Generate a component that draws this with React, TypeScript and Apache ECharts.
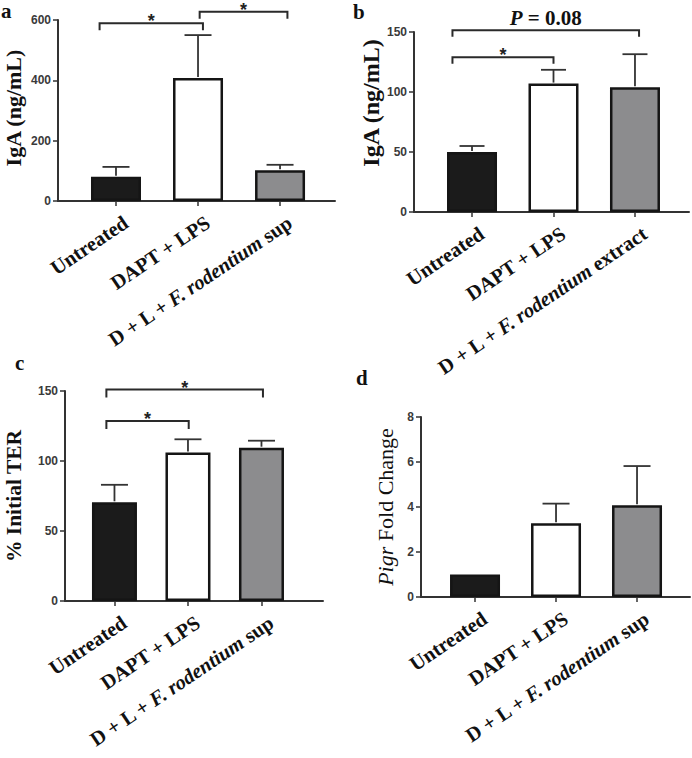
import React, { useEffect, useRef } from 'react';
import * as echarts from 'echarts';

const SERIF = '"Liberation Serif", "Times New Roman", serif';
const SANS = '"Liberation Sans", Arial, sans-serif';

// ---------- data ----------
const categoriesSup = ['Untreated', 'DAPT + LPS', 'D + L + F. rodentium sup'];
const categoriesExtract = ['Untreated', 'DAPT + LPS', 'D + L + F. rodentium extract'];
const barColors = ['#1b1b1b', '#ffffff', '#8c8c8e'];

const igaSupMean = [80, 408, 102];
const igaSupErr = [33, 142, 18];
const igaExtractMean = [50, 107, 104];
const igaExtractErr = [5, 11.5, 27.5];
const terMean = [70.5, 106, 109.5];
const terErr = [12.5, 9.5, 5];
const pigrMean = [1, 3.28, 4.08];
const pigrErr = [0, 0.87, 1.74];

const yTicksA = [0, 200, 400, 600];
const yTicksB = [0, 50, 100, 150];
const yTicksC = [0, 50, 100, 150];
const yTicksD = [0, 2, 4, 6, 8];

// significance brackets: [from (category index), to (category index), level, label]
const bracketsA: [number, number, number, string][] = [
  [-0.2, 1.06, 589, '*'],
  [1.02, 2.09, 627, '*'],
];
const bracketsB: [number, number, number, string][] = [
  [-0.24, 1.0, 129, '*'],
  [-0.24, 2.05, 151.5, 'P = 0.08'],
];
const bracketsC: [number, number, number, string][] = [
  [-0.11, 1.01, 128.5, '*'],
  [-0.11, 2.02, 151, '*'],
];
const bracketsD: [number, number, number, string][] = [];

const panelLetters = ['a', 'b', 'c', 'd'];
const yTitles = ['IgA (ng/mL)', 'IgA (ng/mL)', '% Initial TER', 'Pigr Fold Change'];

// ---------- layout ----------
const panels = [
  {
    grid: { left: 58, top: 20, width: 277, height: 181 },
    xMin: -0.707, xMax: 2.67, barWidth: 50, cap: 27, drop: 7,
    yTicks: yTicksA, cats: categoriesSup, mean: igaSupMean, err: igaSupErr,
    brackets: bracketsA, title: yTitles[0], nameGap: 34, namePad: [0, 0, 0, 5], nameSize: 22,
    letter: { text: panelLetters[0], x: 1, y: 10.5 },
  },
  {
    grid: { left: 414, top: 32, width: 275, height: 180 },
    xMin: -0.712, xMax: 2.663, barWidth: 50, cap: 25, drop: 6.5,
    yTicks: yTicksB, cats: categoriesExtract, mean: igaExtractMean, err: igaExtractErr,
    brackets: bracketsB, title: yTitles[1], nameGap: 30, namePad: [0, 0, 0, 38], nameSize: 24,
    letter: { text: panelLetters[1], x: 353, y: 11.5 },
  },
  {
    grid: { left: 65, top: 391, width: 258, height: 210 },
    xMin: -0.673, xMax: 2.837, barWidth: 45, cap: 27, drop: 8,
    yTicks: yTicksC, cats: categoriesSup, mean: terMean, err: terErr,
    brackets: bracketsC, title: yTitles[2], nameGap: 40, namePad: [0, 0, 0, 0], nameSize: 21.5,
    letter: { text: panelLetters[2], x: 15, y: 363 },
  },
  {
    grid: { left: 421, top: 417, width: 269, height: 180 },
    xMin: -0.667, xMax: 2.654, barWidth: 50, cap: 27, drop: 7,
    yTicks: yTicksD, cats: categoriesSup, mean: pigrMean, err: pigrErr,
    brackets: bracketsD, title: yTitles[3], nameGap: 25, namePad: [0, 0, 0, 0], nameSize: 22,
    letter: { text: panelLetters[3], x: 356, y: 378 },
  },
];

const AXIS_COLOR = '#333333';
const TEXT_COLOR = '#111111';
const LABEL_ROTATE = 34;

const catFormatter = (cats: string[]) => (v: number) => {
  const c = cats[Math.round(v)];
  if (c == null) return '';
  const m = c.match(/^(.*)(F\. rodentium)(.*)$/);
  if (m) return `{b|${m[1]}}{i|${m[2]}}{b|${m[3]}}`;
  return `{b|${c}}`;
};

const titleText = (t: string) => {
  if (t.startsWith('Pigr')) return `{i|Pigr}{n|${t.slice(4)}}`;
  return `{b|${t}}`;
};

function buildOption() {
  const grid: any[] = [];
  const xAxis: any[] = [];
  const yAxis: any[] = [];
  const series: any[] = [];
  const graphic: any[] = [];

  panels.forEach((p, i) => {
    grid.push({ ...p.grid, containLabel: false });
    const ticks = p.yTicks;
    xAxis.push({
      type: 'value',
      gridIndex: i,
      min: p.xMin,
      max: p.xMax,
      splitLine: { show: false },
      axisLine: { show: true, onZero: false, lineStyle: { color: AXIS_COLOR, width: 2 } },
      axisTick: { show: true, customValues: [0, 1, 2], length: 5, lineStyle: { color: AXIS_COLOR, width: 1.5 } },
      axisLabel: {
        customValues: [0, 1, 2],
        rotate: LABEL_ROTATE,
        margin: 5,
        padding: [35, 0, 0, 0],
        formatter: catFormatter(p.cats),
        rich: {
          b: { fontFamily: SERIF, fontWeight: 'bold', fontSize: 20.5, color: TEXT_COLOR },
          i: { fontFamily: SERIF, fontWeight: 'bold', fontStyle: 'italic', fontSize: 20.5, color: TEXT_COLOR },
        },
      },
    });
    yAxis.push({
      type: 'value',
      gridIndex: i,
      min: ticks[0],
      max: ticks[ticks.length - 1],
      interval: ticks[1] - ticks[0],
      splitLine: { show: false },
      axisLine: { show: true, onZero: false, lineStyle: { color: AXIS_COLOR, width: 2 } },
      axisTick: { show: true, length: 5, lineStyle: { color: AXIS_COLOR, width: 1.5 } },
      axisLabel: { fontFamily: SANS, fontWeight: 'bold', fontSize: 12, color: '#3a3a3a', margin: 7 },
      name: titleText(p.title),
      nameLocation: 'middle',
      nameRotate: 90,
      nameGap: p.nameGap,
      nameTextStyle: {
        padding: p.namePad,
        rich: {
          b: { fontFamily: SERIF, fontWeight: 'bold', fontSize: p.nameSize, color: TEXT_COLOR },
          i: { fontFamily: SERIF, fontStyle: 'italic', fontSize: p.nameSize, color: TEXT_COLOR },
          n: { fontFamily: SERIF, fontSize: p.nameSize, color: TEXT_COLOR },
        },
      },
    });

    series.push({
      type: 'bar',
      xAxisIndex: i,
      yAxisIndex: i,
      barWidth: p.barWidth,
      data: p.mean.map((v, k) => ({
        value: [k, v],
        itemStyle: { color: barColors[k], borderColor: '#151515', borderWidth: 2.5 },
      })),
      z: 2,
    });

    const cap = p.cap;
    series.push({
      type: 'custom',
      xAxisIndex: i,
      yAxisIndex: i,
      z: 3,
      encode: { x: 0, y: 1 },
      data: p.mean.map((v, k) => [k, v, p.err[k]]),
      renderItem: (params: any, api: any) => {
        const x = api.value(0);
        const m = api.value(1);
        const e = api.value(2);
        if (!e) return { type: 'group', children: [] };
        const b = api.coord([x, m]);
        const t = api.coord([x, m + e]);
        const st = { stroke: '#333', lineWidth: 1.8 };
        return {
          type: 'group',
          children: [
            { type: 'line', shape: { x1: b[0], y1: b[1] - 1, x2: t[0], y2: t[1] }, style: st },
            { type: 'line', shape: { x1: t[0] - cap / 2, y1: t[1], x2: t[0] + cap / 2, y2: t[1] }, style: st },
          ],
        };
      },
    });

    if (p.brackets.length) {
      const br = p.brackets;
      const drop = p.drop;
      series.push({
        type: 'custom',
        xAxisIndex: i,
        yAxisIndex: i,
        z: 4,
        clip: false,
        encode: { x: [0, 1], y: 2 },
        data: br.map((b) => [b[0], b[1], b[2]]),
        renderItem: (params: any, api: any) => {
          const b = br[params.dataIndex];
          const p1 = api.coord([b[0], b[2]]);
          const p2 = api.coord([b[1], b[2]]);
          const y = p1[1];
          const isStar = b[3] === '*';
          const textEl = isStar
            ? {
                type: 'text',
                x: (p1[0] + p2[0]) / 2,
                y: y - 2,
                style: {
                  text: '*',
                  fontFamily: SANS,
                  fontWeight: 'bold',
                  fontSize: 18,
                  lineHeight: 10,
                  fill: '#222',
                  align: 'center',
                  verticalAlign: 'middle',
                },
              }
            : {
                type: 'text',
                x: (p1[0] + p2[0]) / 2,
                y: y - 12,
                style: {
                  text: '{i|P}{n|' + b[3].slice(1) + '}',
                  align: 'center',
                  verticalAlign: 'middle',
                  rich: {
                    i: { fontFamily: SERIF, fontWeight: 'bold', fontStyle: 'italic', fontSize: 21, fill: TEXT_COLOR, color: TEXT_COLOR },
                    n: { fontFamily: SERIF, fontWeight: 'bold', fontSize: 21, fill: TEXT_COLOR, color: TEXT_COLOR },
                  },
                },
              };
          return {
            type: 'group',
            children: [
              {
                type: 'polyline',
                shape: { points: [[p1[0], y + drop], [p1[0], y], [p2[0], y], [p2[0], y + drop]] },
                style: { stroke: '#2a2a2a', lineWidth: 2, fill: 'none' },
              },
              textEl,
            ],
          };
        },
      });
    }

    graphic.push({
      type: 'text',
      x: p.letter.x,
      y: p.letter.y,
      style: {
        text: p.letter.text,
        fontFamily: SERIF,
        fontWeight: 'bold',
        fontSize: 21,
        lineHeight: 16,
        fill: TEXT_COLOR,
        align: 'left',
        verticalAlign: 'middle',
      },
    });
  });

  return {
    animation: false,
    backgroundColor: '#ffffff',
    grid,
    xAxis,
    yAxis,
    series,
    graphic,
  };
}

export default function App() {
  const ref = useRef<HTMLDivElement>(null);
  useEffect(() => {
    if (!ref.current) return;
    const chart = echarts.init(ref.current, undefined, { renderer: 'svg' });
    chart.setOption(buildOption() as any);
    return () => chart.dispose();
  }, []);
  return (
    <div
      ref={ref}
      style={{ position: 'absolute', left: 0, top: 0, width: 692, height: 758, background: '#fff' }}
    />
  );
}
